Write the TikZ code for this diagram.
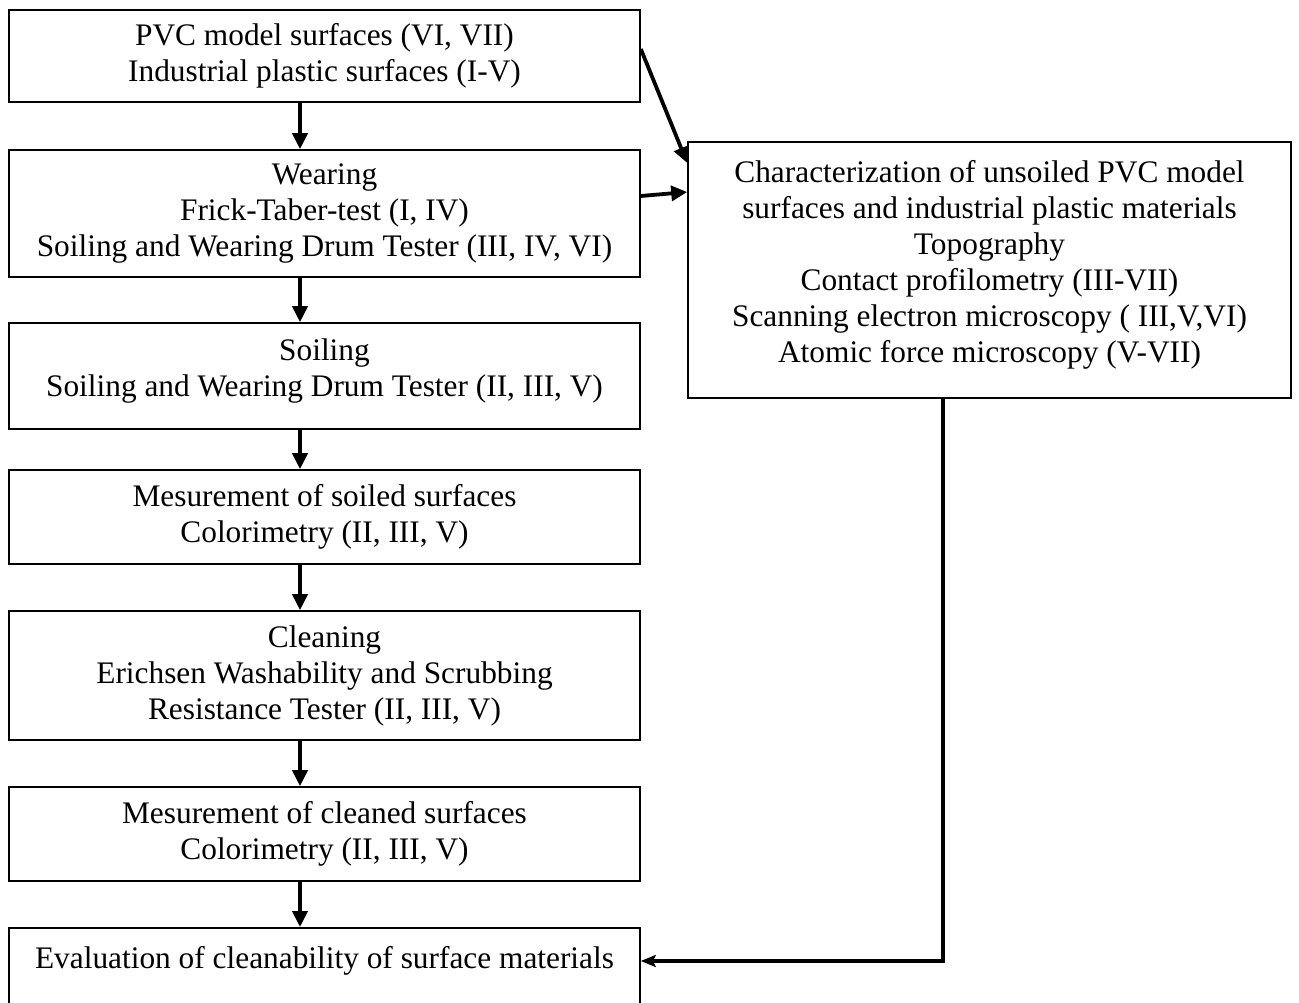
\documentclass[tikz,border=0pt]{standalone}
\usepackage{fontspec}
\setmainfont{Liberation Serif}
\usetikzlibrary{arrows.meta}
\begin{document}
\begin{tikzpicture}[x=1pt,y=-1pt,
  box/.style={draw, line width=1.6pt, align=center, font=\fontsize{31.35}{36}\selectfont, inner sep=0pt},
  lbox/.style={box, minimum width=631pt},
  arr/.style={line width=3.8pt, -{Triangle[length=16pt,width=15pt]}},
  back/.style={line width=3.2pt, -{Stealth[length=15pt,width=12pt,inset=3pt]}}]
\useasboundingbox (0,0) rectangle (1299,1003);
\coordinate (ax) at (300,0);
\coordinate (cx) at (943,0);
\coordinate (ey) at (0,961);
\node[lbox, minimum height=92pt] (b1) at (324.5,56) {PVC model surfaces (VI, VII)\\Industrial plastic surfaces (I-V)};
\node[lbox, minimum height=127pt] (b2) at (324.5,213.5) {Wearing\\Frick-Taber-test (I, IV)\\Soiling and Wearing Drum Tester (III, IV, VI)};
\node[lbox, minimum height=106pt, text depth=17pt] (b3) at (324.5,376) {Soiling\\Soiling and Wearing Drum Tester (II, III, V)};
\node[lbox, minimum height=94pt] (b4) at (324.5,517) {Mesurement of soiled surfaces\\ Colorimetry (II, III, V)};
\node[lbox, minimum height=129pt] (b5) at (324.5,675.5) {Cleaning\\Erichsen Washability and Scrubbing\\ Resistance Tester (II, III, V)};
\node[lbox, minimum height=94pt] (b6) at (324.5,834) {Mesurement of cleaned surfaces\\ Colorimetry (II, III, V)};
\node[lbox, anchor=north, text height=24pt, text depth=60pt, inner ysep=17pt] (b7) at (324.5,927) {Evaluation of cleanability of surface materials};
\node[box, minimum width=603pt, minimum height=256pt, text depth=17pt] (rb) at (989.5,270) {Characterization of unsoiled PVC model\\surfaces and industrial plastic materials\\Topography\\Contact profilometry (III-VII)\\Scanning electron microscopy ( III,V,VI)\\Atomic force microscopy (V-VII)};
\draw[arr] (b1.south -| ax) -- (b2.north -| ax);
\draw[arr] (b2.south -| ax) -- (b3.north -| ax);
\draw[arr] (b3.south -| ax) -- (b4.north -| ax);
\draw[arr] (b4.south -| ax) -- (b5.north -| ax);
\draw[arr] (b5.south -| ax) -- (b6.north -| ax);
\draw[arr] (b6.south -| ax) -- (b7.north -| ax);
\draw[arr] ([yshift=7pt]b1.east) -- ([yshift=107pt]rb.west);
\draw[arr] ([yshift=17.5pt]b2.east) -- ([yshift=78pt]rb.west);
\draw[back] (rb.south -| cx) |- (b7.east |- ey);
\end{tikzpicture}
\end{document}
